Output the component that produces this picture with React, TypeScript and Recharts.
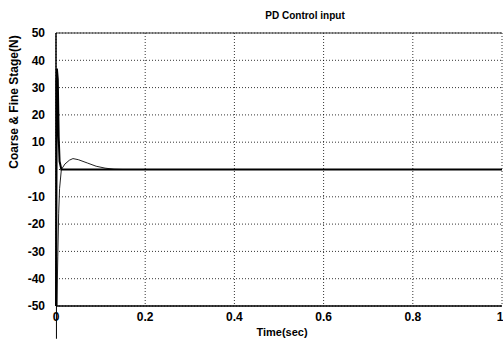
import { LineChart, Line, XAxis, YAxis, CartesianGrid, ReferenceLine } from "recharts";

// time samples (sec)
const time = [0, 0.002, 0.004, 0.006, 0.008, 0.012, 0.02, 0.03, 0.038, 0.05, 0.07, 0.09, 0.11, 0.13, 0.15, 0.4, 0.7, 1];
// coarse stage force (N)
const coarse = [-50, 37, 33, 12, 3, 0, 0, 0, 0, 0, 0, 0, 0, 0, 0, 0, 0, 0];
// fine stage force (N)
const fine = [33, -50, -32, -16, -7, 0, 2, 3.4, 4, 3.6, 2.4, 1.2, 0.5, 0.1, 0, 0, 0, 0];

const xTicks = [0, 0.2, 0.4, 0.6, 0.8, 1];
const yTicks = [-50, -40, -30, -20, -10, 0, 10, 20, 30, 40, 50];

const rows = time.map((t, i) => ({ t, coarse: coarse[i], fine: fine[i] }));

const font = "'Liberation Sans', Arial, sans-serif";
const tickStyle = { fontSize: 12, fontWeight: 700, fill: "#000", fontFamily: font };

export default function App() {
  return (
    <div style={{ position: "absolute", left: 0, top: 0, width: 503, height: 339, background: "#fff" }}>
      <LineChart width={503} height={339} data={rows} margin={{ top: 33, right: 1, bottom: 0, left: 0 }}>
        <CartesianGrid stroke="#000" strokeDasharray="1 2" strokeWidth={0.8} horizontal vertical />
        <XAxis
          dataKey="t"
          type="number"
          domain={[0, 1]}
          ticks={xTicks}
          tickFormatter={(v: number) => String(v)}
          tick={tickStyle}
          tickLine={false}
          axisLine={{ stroke: "#000", strokeWidth: 1.5 }}
          tickMargin={0}
          height={33}
        />
        <YAxis
          type="number"
          domain={[-50, 50]}
          ticks={yTicks}
          tick={tickStyle}
          tickLine={false}
          axisLine={{ stroke: "#000", strokeWidth: 1.5 }}
          width={56}
          tickMargin={5}
          allowDataOverflow
        />
        <ReferenceLine y={50} stroke="#333" strokeWidth={1.2} />
        <ReferenceLine
          segment={[{ x: 0.001, y: -50 }, { x: 0.001, y: -62 }]}
          stroke="#000"
          strokeWidth={1}
          ifOverflow="visible"
        />
        <Line
          dataKey="fine"
          stroke="#222"
          strokeWidth={1}
          dot={false}
          isAnimationActive={false}
          type="linear"
        />
        <Line
          dataKey="coarse"
          stroke="#000"
          strokeWidth={2}
          dot={false}
          isAnimationActive={false}
          type="linear"
        />
        <text x={305} y={19} textAnchor="middle" style={{ fontSize: 10, fontWeight: 700, fontFamily: font }}>
          PD Control input
        </text>
        <text x={282} y={336} textAnchor="middle" style={{ fontSize: 11, fontWeight: 700, fontFamily: font }}>
          Time(sec)
        </text>
        <text
          x={18}
          y={102}
          transform="rotate(-90 18 102)"
          textAnchor="middle"
          style={{ fontSize: 12, fontWeight: 700, fontFamily: font }}
        >
          Coarse &amp; Fine Stage(N)
        </text>
      </LineChart>
    </div>
  );
}
